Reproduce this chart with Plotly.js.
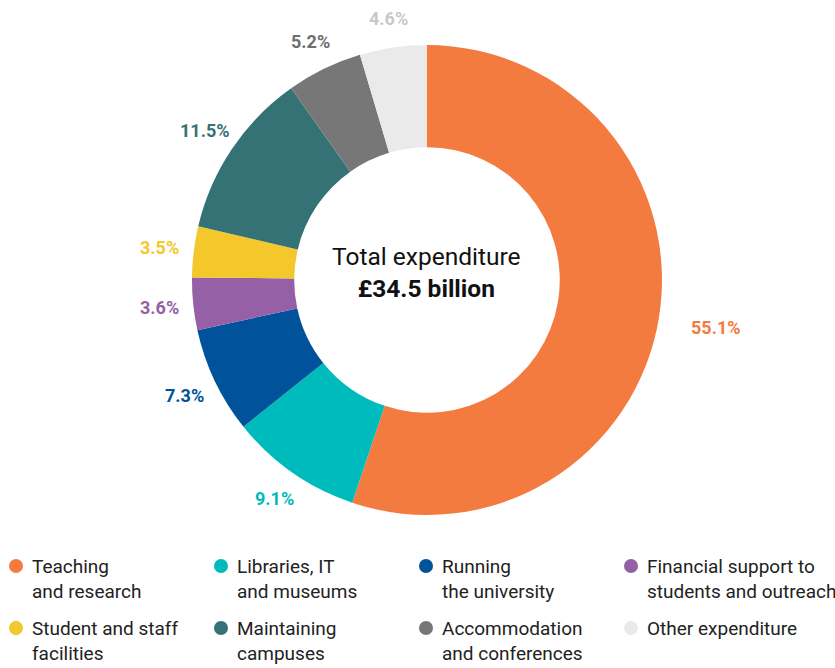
<!DOCTYPE html>
<html>
<head>
<meta charset="utf-8">
<script src="https://cdn.plot.ly/plotly-3.0.1.min.js"></script>
<style>html,body{margin:0;padding:0;background:#fff;}#chart{width:835px;height:668px;}</style>
</head>
<body>
<div id="chart"></div>
<script>
const categories = ["Teaching and research","Libraries, IT and museums","Running the university","Financial support to students and outreach","Student and staff facilities","Maintaining campuses","Accommodation and conferences","Other expenditure"];
const legendLabels = ["Teaching<br>and research","Libraries, IT<br>and museums","Running<br>the university","Financial support to<br>students and outreach","Student and staff<br>facilities","Maintaining<br>campuses","Accommodation<br>and conferences","Other expenditure"];
const values = [55.1, 9.1, 7.3, 3.6, 3.5, 11.5, 5.2, 4.6];
const sliceColors = ["#F47B40","#00BBBB","#00529B","#9560A6","#F4C72B","#357275","#777777","#EAEAEA"];
const labelColors = ["#F47B40","#00BBBB","#00529B","#9560A6","#F4C72B","#357275","#6E6E6E","#C8C8C8"];
const centerLine1 = "Total expenditure";
const centerLine2 = "£34.5 billion";

const W = 835, H = 668;
const FONT = "Roboto, 'Liberation Sans', sans-serif";
const px2x = p => p / W;
const px2y = p => 1 - p / H;

// pie domain (fractions of the page; margins are zero)
const domX = [0.0305, 0.9922];
const domY = [px2y(515), px2y(45)];
const cx = (domX[0] + domX[1]) / 2 * W;
const cy = H - (domY[0] + domY[1]) / 2 * H;
const R = (domY[1] - domY[0]) * H / 2;

const annotations = [];
const shapes = [];

// percentage labels placed outside each slice, from the slice mid-angle
const total = values.reduce((a, b) => a + b, 0);
let cum = 0;
values.forEach((v, i) => {
  const f = (cum + v / 2) / total;
  cum += v;
  const th = (90 - 360 * f) * Math.PI / 180;
  const c = Math.cos(th);
  const r = R + 28 + (c > 0 ? 30 : 6) * Math.abs(c);
  annotations.push({
    x: px2x(cx + r * Math.cos(th)), y: px2y(cy - r * Math.sin(th)),
    xref: 'paper', yref: 'paper', xanchor: 'center', yanchor: 'middle', showarrow: false,
    text: '<b>' + v.toFixed(1) + '%</b>',
    font: {family: FONT, size: 18, color: labelColors[i]}
  });
});

// centre text
annotations.push({
  x: px2x(cx), y: px2y(cy - 8), xref: 'paper', yref: 'paper',
  xanchor: 'center', yanchor: 'middle', showarrow: false,
  text: centerLine1 + '<br><b>' + centerLine2 + '</b>',
  font: {family: FONT, size: 24.5, color: '#111'}
});

// legend: 4 columns x 2 rows, circle marker + label
const COLS = 4, colW = 205, col0 = 16, row0 = 566, rowH = 62, dotR = 7;
categories.forEach((c, i) => {
  const col = i % COLS, row = Math.floor(i / COLS);
  const mx = col0 + col * colW, my = row0 + row * rowH;
  shapes.push({
    type: 'circle', xref: 'paper', yref: 'paper',
    x0: px2x(mx - dotR), x1: px2x(mx + dotR), y0: px2y(my + dotR), y1: px2y(my - dotR),
    fillcolor: sliceColors[i], line: {width: 0}
  });
  annotations.push({
    x: px2x(mx + 14), y: px2y(my - 13), xref: 'paper', yref: 'paper',
    xanchor: 'left', yanchor: 'top', align: 'left', showarrow: false,
    text: legendLabels[i],
    font: {family: FONT, size: 19, color: '#222'}
  });
});

const traces = [{
  type: 'pie',
  labels: categories,
  values: values,
  sort: false,
  direction: 'clockwise',
  rotation: 0,
  hole: 0.565,
  marker: {colors: sliceColors, line: {width: 0}},
  textinfo: 'none',
  hoverinfo: 'label+percent',
  showlegend: false,
  domain: {x: domX, y: domY}
}];

const layout = {
  width: W, height: H,
  margin: {l: 0, r: 0, t: 0, b: 0},
  paper_bgcolor: '#fff', plot_bgcolor: '#fff',
  showlegend: false,
  annotations: annotations,
  shapes: shapes
};

Plotly.newPlot('chart', traces, layout, {staticPlot: true});
</script>
</body>
</html>
